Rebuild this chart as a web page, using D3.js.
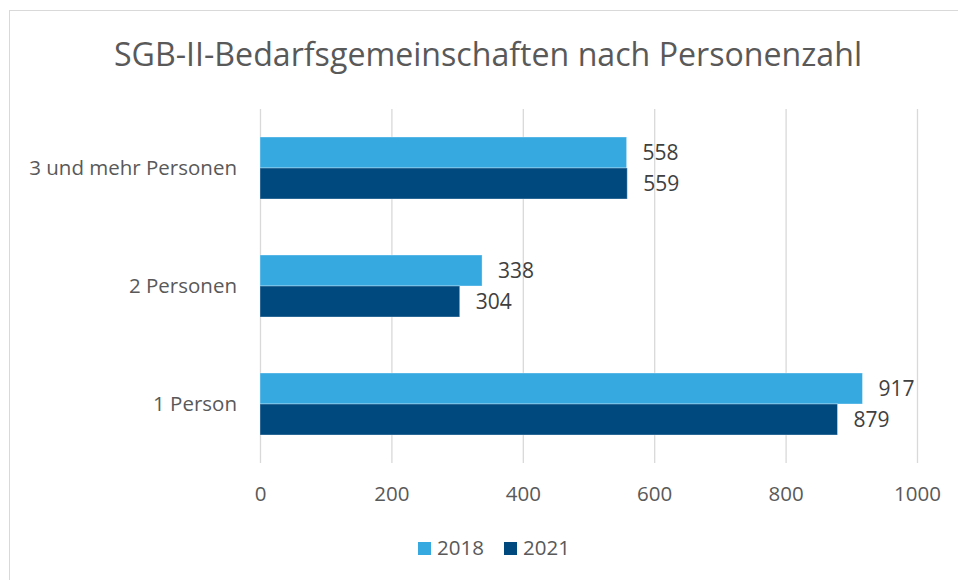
<!DOCTYPE html>
<html>
<head>
<meta charset="utf-8">
<script src="https://cdn.jsdelivr.net/npm/d3@7"></script>
<style>
  body { margin: 0; background: #fff; }
  svg text { font-family: "Open Sans", sans-serif; fill: #595959; }
</style>
</head>
<body>
<svg id="chart" width="958" height="580"></svg>
<script>
// data
var categories = ["3 und mehr Personen", "2 Personen", "1 Person"];
var seriesNames = ["2018", "2021"];
var values2018 = [558, 338, 917];
var values2021 = [559, 304, 879];
var xTicks = [0, 200, 400, 600, 800, 1000];
var colors = ["#36a9e1", "#00497f"];

var svg = d3.select("#chart");

// chart frame (only top/left edges are inside the picture)
svg.append("rect")
  .attr("x", 9.5).attr("y", 10.5)
  .attr("width", 1000).attr("height", 1000)
  .attr("fill", "none")
  .attr("stroke", "#d9d9d9");

svg.append("text")
  .attr("x", 114).attr("y", 66)
  .attr("textLength", 748)
  .attr("lengthAdjust", "spacingAndGlyphs")
  .style("font-size", "32px")
  .text("SGB-II-Bedarfsgemeinschaften nach Personenzahl");

var x = d3.scaleLinear().domain([0, 1000]).range([260, 917]);
var y = d3.scaleBand().domain(categories).range([109, 463]);
var ySeries = d3.scaleBand().domain(seriesNames)
  .range([0, 62]);
var groupOffset = (y.bandwidth() - 62) / 2;

// gridlines
svg.append("g").selectAll("line")
  .data(xTicks)
  .join("line")
  .attr("x1", function(d) { return x(d) + 0.5; })
  .attr("x2", function(d) { return x(d) + 0.5; })
  .attr("y1", 109).attr("y2", 463)
  .attr("stroke", "#d9d9d9")
  .attr("stroke-width", 1.3);

// bars
var rows = [];
categories.forEach(function(c, i) {
  rows.push({cat: c, series: "2018", value: values2018[i], color: colors[0]});
  rows.push({cat: c, series: "2021", value: values2021[i], color: colors[1]});
});

svg.append("g").selectAll("rect")
  .data(rows)
  .join("rect")
  .attr("x", x(0))
  .attr("y", function(d) { return y(d.cat) + groupOffset + ySeries(d.series); })
  .attr("width", function(d) { return x(d.value) - x(0); })
  .attr("height", ySeries.bandwidth())
  .attr("fill", function(d) { return d.color; })
  .attr("stroke", "#ffffff")
  .attr("stroke-opacity", 0.35)
  .attr("stroke-width", 1);

// value labels
svg.append("g").selectAll("text")
  .data(rows)
  .join("text")
  .attr("x", function(d) { return x(d.value) + 16; })
  .attr("y", function(d) { return y(d.cat) + groupOffset + ySeries(d.series) + ySeries.bandwidth() / 2; })
  .attr("dy", "0.36em")
  .style("font-size", "21px")
  .style("fill", "#404040")
  .text(function(d) { return d.value; });

// category axis labels
svg.append("g").selectAll("text")
  .data(categories)
  .join("text")
  .attr("x", 237)
  .attr("y", function(d) { return y(d) + y.bandwidth() / 2; })
  .attr("dy", "0.36em")
  .attr("text-anchor", "end")
  .style("font-size", "20.5px")
  .text(function(d) { return d; });

// x axis tick labels
var xAxis = d3.axisBottom(x).tickValues(xTicks).tickFormat(d3.format("d"))
  .tickSize(0).tickPadding(0);
var gx = svg.append("g").attr("transform", "translate(0,501)").call(xAxis);
gx.select(".domain").remove();
gx.selectAll("text")
  .attr("dy", 0)
  .style("font-size", "20.5px")
  .style("fill", "#595959");

// legend
var legend = svg.append("g").selectAll("g")
  .data(seriesNames)
  .join("g")
  .attr("transform", function(d, i) { return "translate(" + (418 + i * 86) + ",542)"; });
legend.append("rect")
  .attr("width", 13).attr("height", 13)
  .attr("fill", function(d, i) { return colors[i]; });
legend.append("text")
  .attr("x", 19).attr("y", 13)
  .style("font-size", "20.5px")
  .text(function(d) { return d; });
</script>
</body>
</html>
